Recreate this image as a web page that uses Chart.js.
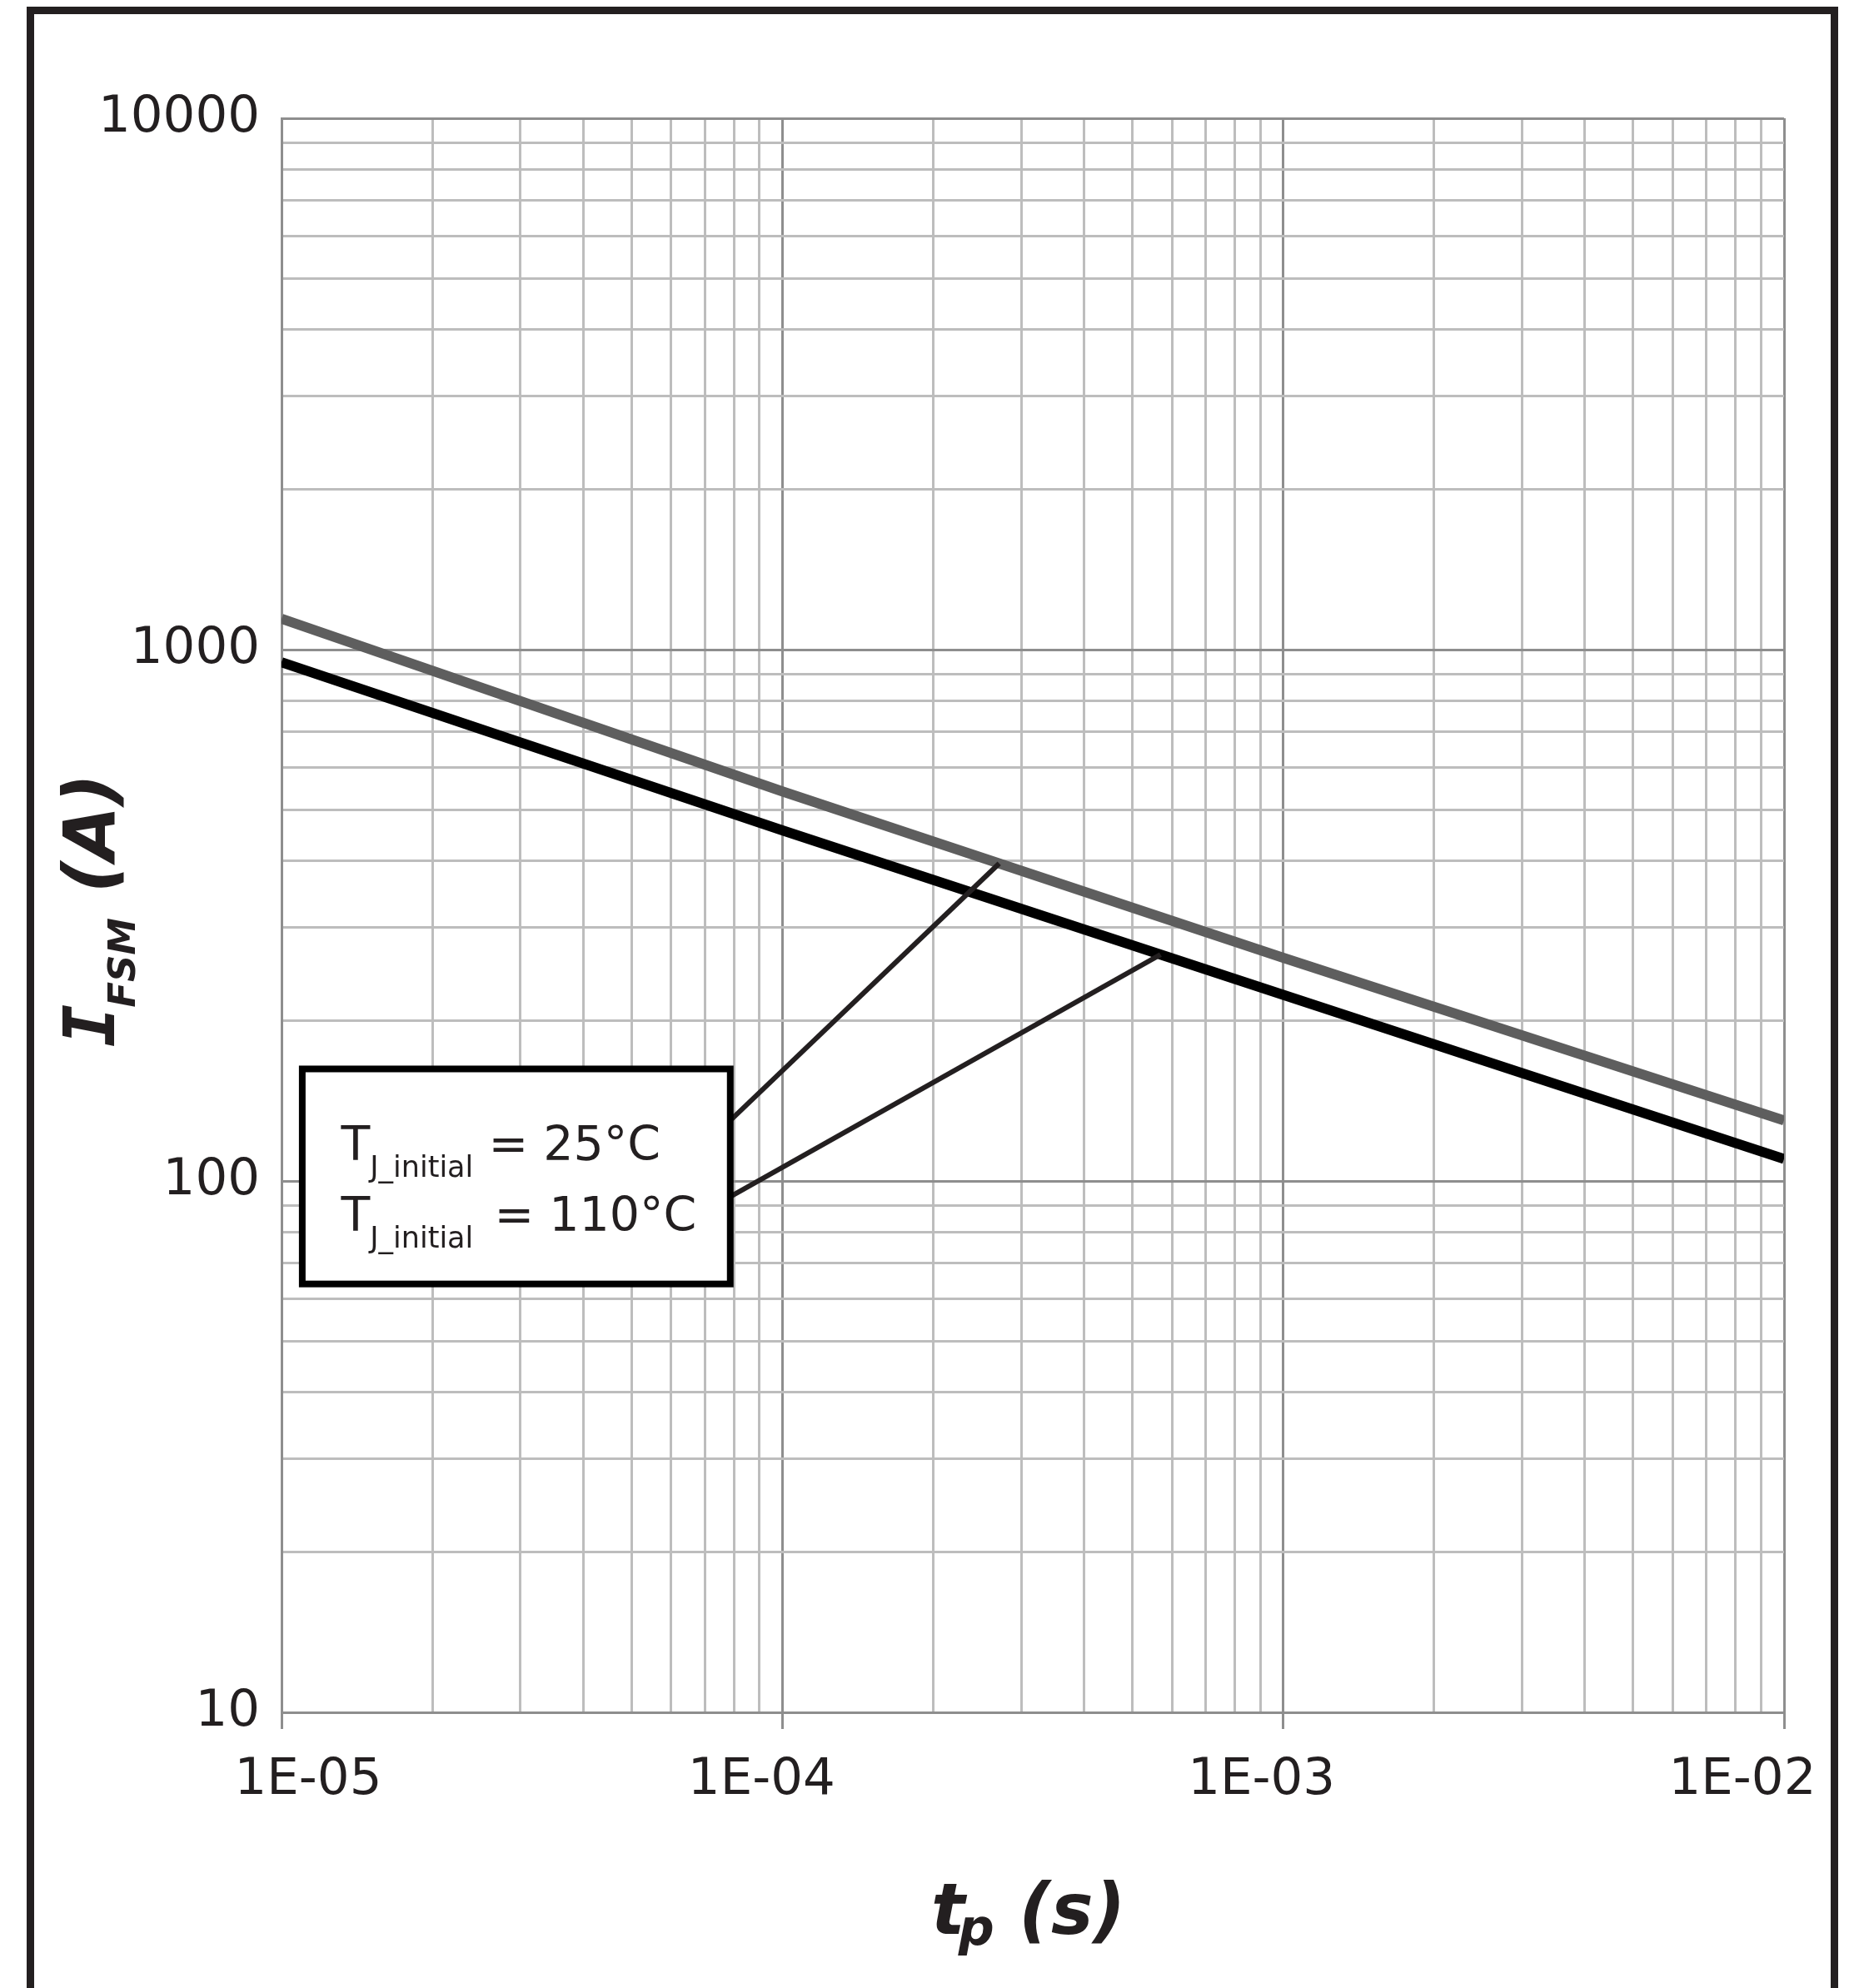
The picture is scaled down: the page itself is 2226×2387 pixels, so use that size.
<!DOCTYPE html>
<html lang="en">
<head>
<meta charset="UTF-8">
<title>IFSM vs tp</title>
<script src="https://cdn.jsdelivr.net/npm/chart.js@4"></script>
<style>
  html, body { margin:0; padding:0; background:#fff; overflow:hidden; }
  /* outer frame of the figure (bottom edge runs off the page) */
  .frame { position:absolute; left:32px; top:8px; width:2175px; height:2500px;
           border:9px solid #231f20; border-bottom:none; box-sizing:border-box; }
  .wrap { position:absolute; left:0; top:0; width:2226px; height:2387px; }
</style>
</head>
<body>
<div class="frame"></div>
<div class="wrap"><canvas id="surge"></canvas></div>

<script>
// ---- data: pulse width tp (s) vs. non-repetitive surge current IFSM (A) ----
const tp       = [1e-5, 1e-4, 1e-3, 1e-2];
const ifsm25C  = [1143, 541, 263, 130];
const ifsm110C = [947, 457, 224, 110];

const seriesTemps = ['25°C', '110°C'];

const xTickValues = [1e-5, 1e-4, 1e-3, 1e-2];
const xTickLabels = ['1E-05', '1E-04', '1E-03', '1E-02'];
const yTickValues = [10, 100, 1000, 10000];
const yTickLabels = ['10', '100', '1000', '10000'];

// where each callout leader meets its curve (tp, s)
const leaderHits = [2.71e-4, 5.69e-4];

const INK = '#231f20';
const GRID_MINOR = '#bdbdbd';
const GRID_MAJOR = '#8e8e8e';

// 1..9 x each decade, last decade only its first line
function decadeTicks(decades) {
  const out = [];
  decades.forEach((d, i) => {
    const top = i === decades.length - 1 ? 1 : 9;
    for (let m = 1; m <= top; m++) out.push({ value: +(m * d).toPrecision(3), major: m === 1 });
  });
  return out;
}

// log-log lookup on a curve, used to land the leaders on the lines
function onCurve(xs, ys, t) {
  const lt = Math.log10(t);
  for (let i = 0; i < xs.length - 1; i++) {
    const a = Math.log10(xs[i]), b = Math.log10(xs[i + 1]);
    if (lt >= a && lt <= b) {
      const f = (lt - a) / (b - a);
      return Math.pow(10, Math.log10(ys[i]) + f * (Math.log10(ys[i + 1]) - Math.log10(ys[i])));
    }
  }
  return ys[ys.length - 1];
}

const gridColor = c => (c.tick && c.tick.major ? GRID_MAJOR : GRID_MINOR);

// axis labels: x tick text and both titles (they carry subscripts)
const axisText = {
  id: 'axisText',
  afterDraw(chart) {
    const { ctx, chartArea: a, scales: { x } } = chart;
    ctx.save();
    ctx.fillStyle = INK;
    ctx.textBaseline = 'alphabetic';

    ctx.font = '61px "DejaVu Sans"';
    ctx.textAlign = 'center';
    const nudge = [32, -25, -26, -50];
    xTickValues.forEach((v, i) => {
      ctx.fillText(xTickLabels[i], x.getPixelForValue(v) + nudge[i], a.bottom + 98);
    });

    // t_p (s)
    ctx.textAlign = 'left';
    const big = 'italic bold 85px "DejaVu Sans"';
    let px = (a.left + a.right) / 2 - 122;
    const base = a.bottom + 266;
    ctx.font = big;
    ctx.fillText('t', px, base);
    px += ctx.measureText('t').width - 8;
    ctx.font = 'italic bold 60px "DejaVu Sans"';
    ctx.fillText('p', px, base + 13);
    px += ctx.measureText('p').width;
    ctx.font = big;
    ctx.fillText(' (s)', px, base);

    // I_FSM (A), reading upwards
    ctx.translate(a.left - 201, (a.top + a.bottom) / 2 + 158);
    ctx.rotate(-Math.PI / 2);
    let s = 0;
    ctx.font = 'italic bold 85px "DejaVu Sans Mono"';
    ctx.fillText('I', s, 0);
    s += ctx.measureText('I').width - 4;
    ctx.font = 'italic bold 45px "DejaVu Sans"';
    ctx.fillText('FSM', s, 25);
    s += ctx.measureText('FSM').width;
    ctx.font = big;
    ctx.fillText(' (A)', s, 0);
    ctx.restore();
  }
};

// boxed legend with leader lines to each curve
const callout = {
  id: 'callout',
  afterDatasetsDraw(chart) {
    const { ctx, scales: { x, y } } = chart;
    const L = x.getPixelForValue(1.1e-5), R = x.getPixelForValue(7.87e-5);
    const T = y.getPixelForValue(162.5), B = y.getPixelForValue(64);
    const curves = [ifsm25C, ifsm110C];
    const starts = [130, 93.4];

    ctx.save();
    ctx.strokeStyle = INK;
    ctx.lineWidth = 6;
    leaderHits.forEach((t, i) => {
      ctx.beginPath();
      ctx.moveTo(R, y.getPixelForValue(starts[i]));
      ctx.lineTo(x.getPixelForValue(t), y.getPixelForValue(onCurve(tp, curves[i], t)));
      ctx.stroke();
    });

    ctx.fillStyle = '#fff';
    ctx.fillRect(L, T, R - L, B - T);
    ctx.strokeStyle = '#000';
    ctx.lineWidth = 8;
    ctx.strokeRect(L, T, R - L, B - T);

    ctx.fillStyle = INK;
    ctx.textAlign = 'left';
    ctx.textBaseline = 'alphabetic';
    seriesTemps.forEach((temp, i) => {
      const base = T + 109.5 + i * 85;
      let px = L + 46.5;
      ctx.font = '57px "DejaVu Sans"';
      ctx.fillText('T', px, base);
      px += ctx.measureText('T').width;
      ctx.font = '35px "DejaVu Sans"';
      ctx.fillText('J_initial', px, base + 20);
      px += ctx.measureText('J_initial').width + i * 7;
      ctx.font = '57px "DejaVu Sans"';
      ctx.fillText(' = ' + temp, px, base);
    });
    ctx.restore();
  }
};

new Chart(document.getElementById('surge'), {
  type: 'line',
  data: {
    datasets: [
      { label: 'TJ_initial = ' + seriesTemps[0], data: tp.map((t, i) => ({ x: t, y: ifsm25C[i] })),
        borderColor: '#5e5e5e', borderWidth: 12 },
      { label: 'TJ_initial = ' + seriesTemps[1], data: tp.map((t, i) => ({ x: t, y: ifsm110C[i] })),
        borderColor: '#000000', borderWidth: 12 }
    ]
  },
  options: {
    responsive: true,
    maintainAspectRatio: false,
    animation: false,
    layout: { padding: { top: 142, right: 84, left: 0, bottom: 0 } },
    elements: { point: { radius: 0 }, line: { tension: 0, fill: false } },
    plugins: { legend: { display: false }, tooltip: { enabled: false } },
    scales: {
      x: {
        type: 'logarithmic', min: 1e-5, max: 1e-2,
        afterBuildTicks: s => { s.ticks = decadeTicks(xTickValues); },
        afterFit: s => { s.height = 331; },
        ticks: { display: false, autoSkip: false },
        grid: {
          color: gridColor, lineWidth: 3,
          drawTicks: true, tickLength: 20, tickWidth: 3,
          tickColor: c => (c.tick && c.tick.major ? GRID_MAJOR : 'rgba(0,0,0,0)')
        },
        border: { color: GRID_MAJOR, width: 3 }
      },
      y: {
        type: 'logarithmic', min: 10, max: 10000,
        afterBuildTicks: s => { s.ticks = decadeTicks(yTickValues); },
        afterFit: s => { s.width = 338; },
        ticks: {
          autoSkip: false, padding: 26, color: INK,
          font: { family: '"DejaVu Sans"', size: 61 },
          callback: v => { const k = yTickValues.indexOf(v); return k < 0 ? '' : yTickLabels[k]; }
        },
        grid: { color: gridColor, lineWidth: 3, drawTicks: false },
        border: { color: GRID_MAJOR, width: 3 }
      }
    }
  },
  plugins: [callout, axisText]
});
</script>
</body>
</html>
